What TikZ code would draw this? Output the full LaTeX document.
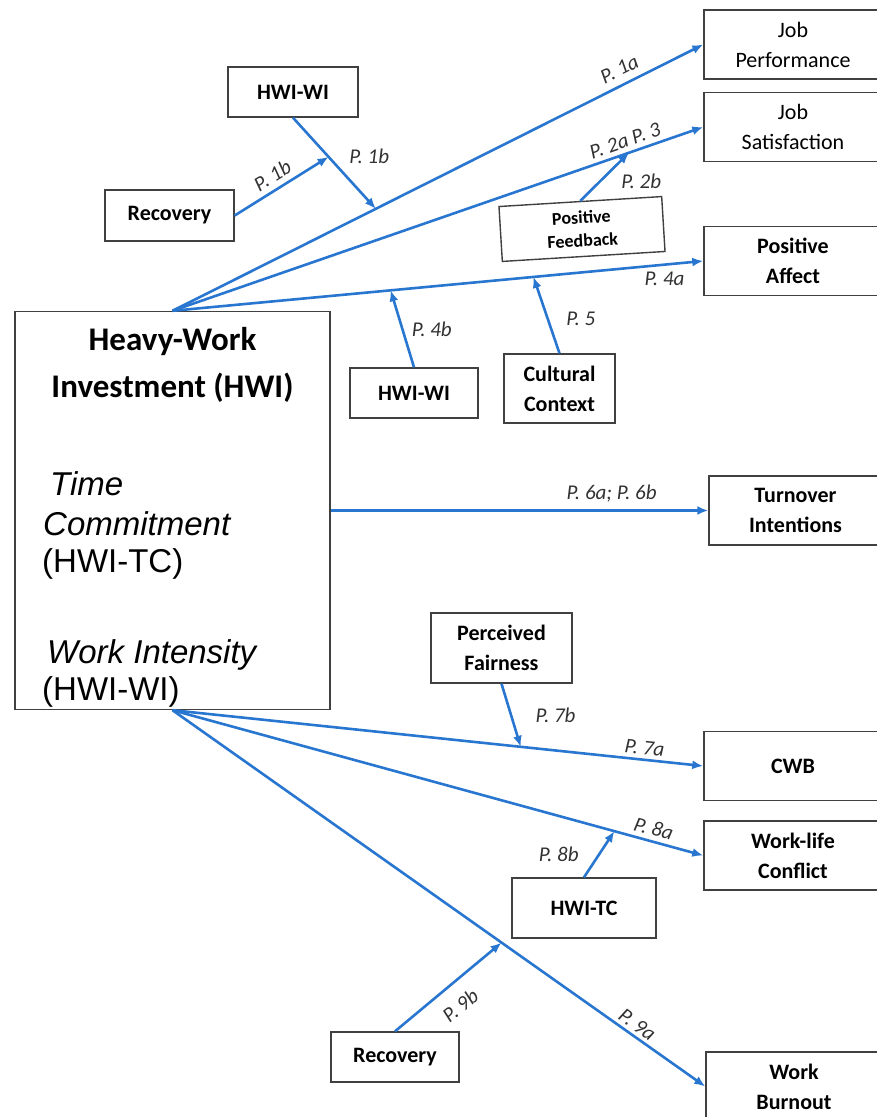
\documentclass[tikz,border=0pt]{standalone}
\usepackage{fontspec}
\setmainfont{Carlito}
\newfontfamily\arialfont{Liberation Sans}
\usetikzlibrary{arrows.meta}
\definecolor{linkblue}{RGB}{40,118,208}
\definecolor{boxgray}{RGB}{64,64,64}
\definecolor{labelgray}{RGB}{50,50,50}

\begin{document}
\begin{tikzpicture}[x=1pt, y=-1pt]
	\tikzstyle{box} = [draw=boxgray, line width=1.4pt, rectangle, align=center, inner sep=0pt, font={\fontsize{22}{30}\selectfont\bfseries}]
	\tikzstyle{outcome} = [box, minimum width=178, minimum height=69]
	\tikzstyle{link} = [draw=linkblue, line width=2.6pt, -{Latex[length=11pt, width=9pt]}]
	\tikzstyle{prop} = [text=labelgray, font={\fontsize{21}{24}\selectfont\itshape}]
	\tikzstyle{hwitext} = [anchor=base west, inner sep=0pt, font={\arialfont\fontsize{33}{38}\selectfont}]
	\useasboundingbox (0,0) rectangle (876,1117);

	% predictor
	\node[draw=boxgray, line width=1.4pt, minimum width=315, minimum height=398, inner sep=0pt] (hwi) at (172.5,510.5) {};
	\node[anchor=base, inner sep=0pt, font={\fontsize{33}{47}\selectfont\bfseries}] (hwihead) at (172.5,350) {Heavy-Work};
	\node[anchor=base, inner sep=0pt, font={\fontsize{33}{47}\selectfont\bfseries}] (hwihead2) at (172.5,397) {Investment (HWI)};
	\node[hwitext] (tc1) at (50,495) {\itshape Time};
	\node[hwitext] (tc2) at (43,535) {\itshape Commitment};
	\node[hwitext] (tc3) at (42,572) {(HWI-TC)};
	\node[hwitext] (wi1) at (47,663) {\itshape Work Intensity};
	\node[hwitext] (wi2) at (42,700) {(HWI-WI)};

	% outcomes
	\node[outcome, font={\fontsize{22}{30}\selectfont}] (perf) at (793,44.5) {Job\\Performance};
	\node[outcome, font={\fontsize{22}{30}\selectfont}] (sat) at (793,127) {Job\\Satisfaction};
	\node[outcome] (affect) at (793,261) {Positive\\Affect};
	\node[outcome, minimum width=173] (turnover) at (795.5,510.5) {Turnover\\Intentions};
	\node[outcome] (cwb) at (793,766) {CWB};
	\node[outcome] (wlc) at (793,855.5) {Work-life\\Conflict};
	\node[outcome, minimum width=176] (burnout) at (794,1086.5) {Work\\Burnout};

	% moderators
	\node[box, minimum width=130, minimum height=50] (wiup) at (293,92) {HWI-WI};
	\node[box, minimum width=129, minimum height=51] (recup) at (169.5,215.5) {Recovery};
	\node[box, minimum width=163, minimum height=55, rotate=3.5, font={\fontsize{18}{23}\selectfont\bfseries}] (feedback) at (582,229) {Positive\\Feedback};
	\node[box, minimum width=128, minimum height=50] (wimid) at (414,393) {HWI-WI};
	\node[box, minimum width=111, minimum height=69] (culture) at (559.5,388.5) {Cultural\\Context};
	\node[box, minimum width=141, minimum height=70] (fairness) at (501.5,648) {Perceived\\Fairness};
	\node[box, minimum width=144, minimum height=60] (tc) at (584,908) {HWI-TC};
	\node[box, minimum width=128, minimum height=50] (recdown) at (395,1057) {Recovery};

	% main effects
	\draw[link] (hwi.north) -- coordinate[pos=.383] (onperf) node[prop, pos=.855, sloped, above=4pt] {P. 1a} (perf.west);
	\draw[link] (hwi.north) -- coordinate[pos=.86] (onsat) node[prop, pos=.86, sloped, above=1pt] {P. 2a P. 3} (sat.west);
	\draw[link] (hwi.north) -- coordinate[pos=.411] (onaffa) coordinate[pos=.68] (onaffb) node[prop, pos=.927, below=3pt] {P. 4a} (affect.west);
	\draw[link] (hwi.east) -- node[prop, pos=.744, above=4pt] {P. 6a; P. 6b} (turnover.west);
	\draw[link] (hwi.south) -- coordinate[pos=.656] (oncwb) node[prop, pos=.887, sloped, above] {P. 7a} (cwb.west);
	\draw[link] (hwi.south) -- coordinate[pos=.8325] (onwlc) node[prop, pos=.90, sloped, above=1pt] {P. 8a} (wlc.west);
	\draw[link] (hwi.south) -- coordinate[pos=.6176] (onburn) node[prop, pos=.86, sloped, above] {P. 9a} (burnout.west);

	% moderated paths
	\draw[link] (wiup.south) -- coordinate[pos=.43] (onwi) node[prop, pos=.42, right=17pt] {P. 1b} (onperf);
	\draw[link] (recup.east) -- node[prop, pos=.48, sloped, above=2pt] {P. 1b} (onwi);
	\draw[link] (feedback.north) -- node[prop, pos=.4, right=17pt] {P. 2b} (onsat);
	\draw[link] (wimid.north) -- node[prop, midway, right=5pt] {P. 4b} (onaffa);
	\draw[link] (culture.north) -- node[prop, pos=.45, right=14pt] {P. 5} (onaffb);
	\draw[link] (fairness.south) -- node[prop, midway, right=20pt] {P. 7b} (oncwb);
	\draw[link] (tc.north) -- node[prop, midway, left=16pt] {P. 8b} (onwlc);
	\draw[link] (recdown.north) -- node[prop, pos=.48, sloped, below=10pt] {P. 9b} (onburn);
\end{tikzpicture}
\end{document}
